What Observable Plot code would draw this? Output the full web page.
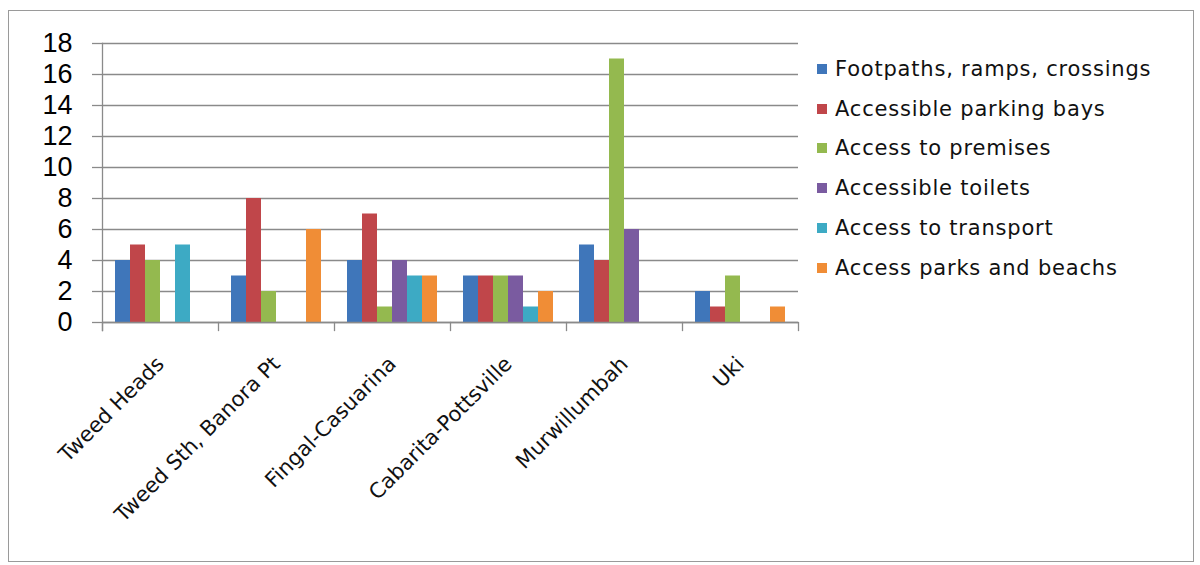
<!DOCTYPE html>
<html>
<head>
<meta charset="utf-8">
<script src="https://cdn.jsdelivr.net/npm/d3@7"></script>
<script src="https://cdn.jsdelivr.net/npm/@observablehq/plot@0.6"></script>
<style>
  html, body { margin: 0; padding: 0; background: #fff; }
  #wrap { position: relative; width: 1200px; height: 565px; overflow: hidden; }
  #border { position: absolute; left: 8px; top: 10px; width: 1186px; height: 552px; border: 1.5px solid #9a9a9a; box-sizing: border-box; pointer-events: none; }
  #legend { position: absolute; left: 817px; top: 49px; font-family: "DejaVu Sans", sans-serif; font-size: 21px; letter-spacing: 0.8px; color: #111; }
  #legend .item { display: flex; align-items: center; height: 39.8px; white-space: nowrap; }
  #legend .sw { width: 10px; height: 10px; margin-right: 8px; }
</style>
</head>
<body>
<div id="wrap">
  <div id="chart"></div>
  <div id="legend"></div>
  <div id="border"></div>
</div>
<script>
const groups = ["Tweed Heads", "Tweed Sth, Banora Pt", "Fingal-Casuarina", "Cabarita-Pottsville", "Murwillumbah", "Uki"];
const series = ["Footpaths, ramps, crossings", "Accessible parking bays", "Access to premises", "Accessible toilets", "Access to transport", "Access parks and beachs"];
const footpaths = [4, 3, 4, 3, 5, 2];
const parking   = [5, 8, 7, 3, 4, 1];
const premises  = [4, 2, 1, 3, 17, 3];
const toilets   = [0, 0, 4, 3, 6, 0];
const transport = [5, 0, 3, 1, 0, 0];
const parks     = [0, 6, 3, 2, 0, 1];
const yTicks = [0, 2, 4, 6, 8, 10, 12, 14, 16, 18];
const colors = ["#3F76BA", "#C0464A", "#94B94F", "#7A5BA0", "#3DAAC4", "#F08D36"];

const seriesValues = [footpaths, parking, premises, toilets, transport, parks];
const data = [];
groups.forEach((g, gi) => {
  series.forEach((s, si) => {
    data.push({group: g, series: s, value: seriesValues[si][gi]});
  });
});

const chart = Plot.plot({
  width: 1200,
  height: 565,
  marginLeft: 100,
  marginRight: 400,
  marginTop: 43,
  marginBottom: 243,
  style: {background: "transparent", fontFamily: "DejaVu Sans, sans-serif"},
  fx: {domain: groups, padding: 0, label: null},
  x: {domain: series, paddingInner: 0, paddingOuter: 0.78, axis: null},
  y: {domain: [0, 18], label: null},
  color: {domain: series, range: colors},
  marks: [
    Plot.gridY(yTicks, {stroke: "#8a8a8a", strokeOpacity: 1, strokeWidth: 1.3}),
    Plot.barY(data, {fx: "group", x: "series", y: "value", fill: "series", inset: 0}),
    Plot.axisY(yTicks, {anchor: "left", tickSize: 10, stroke: "#8a8a8a", strokeWidth: 1.3, tickPadding: 20, fontSize: 27, fontFamily: "Liberation Sans", fill: "#000", label: null}),
    Plot.ruleY([0], {stroke: "#8a8a8a", strokeWidth: 1.3}),
    Plot.frame({facet: "super", anchor: "left", stroke: "#8a8a8a", strokeWidth: 1.3, insetBottom: -8}),
    Plot.frame({anchor: "left", stroke: "#8a8a8a", strokeWidth: 1.3, insetTop: 279, insetBottom: -8}),
    Plot.frame({facet: "super", anchor: "right", stroke: "#8a8a8a", strokeWidth: 1.3, insetTop: 279, insetBottom: -8}),
    Plot.axisFx({anchor: "bottom", tickSize: 0, tickRotate: -45, tickPadding: 38, fontSize: 21, fill: "#111", label: null, dx: 0, style: {letterSpacing: "0.8px"}})
  ]
});
document.getElementById("chart").appendChild(chart);

const legend = document.getElementById("legend");
series.forEach((s, i) => {
  const item = document.createElement("div");
  item.className = "item";
  const sw = document.createElement("span");
  sw.className = "sw";
  sw.style.background = colors[i];
  const t = document.createElement("span");
  t.textContent = s;
  item.appendChild(sw);
  item.appendChild(t);
  legend.appendChild(item);
});
</script>
</body>
</html>
